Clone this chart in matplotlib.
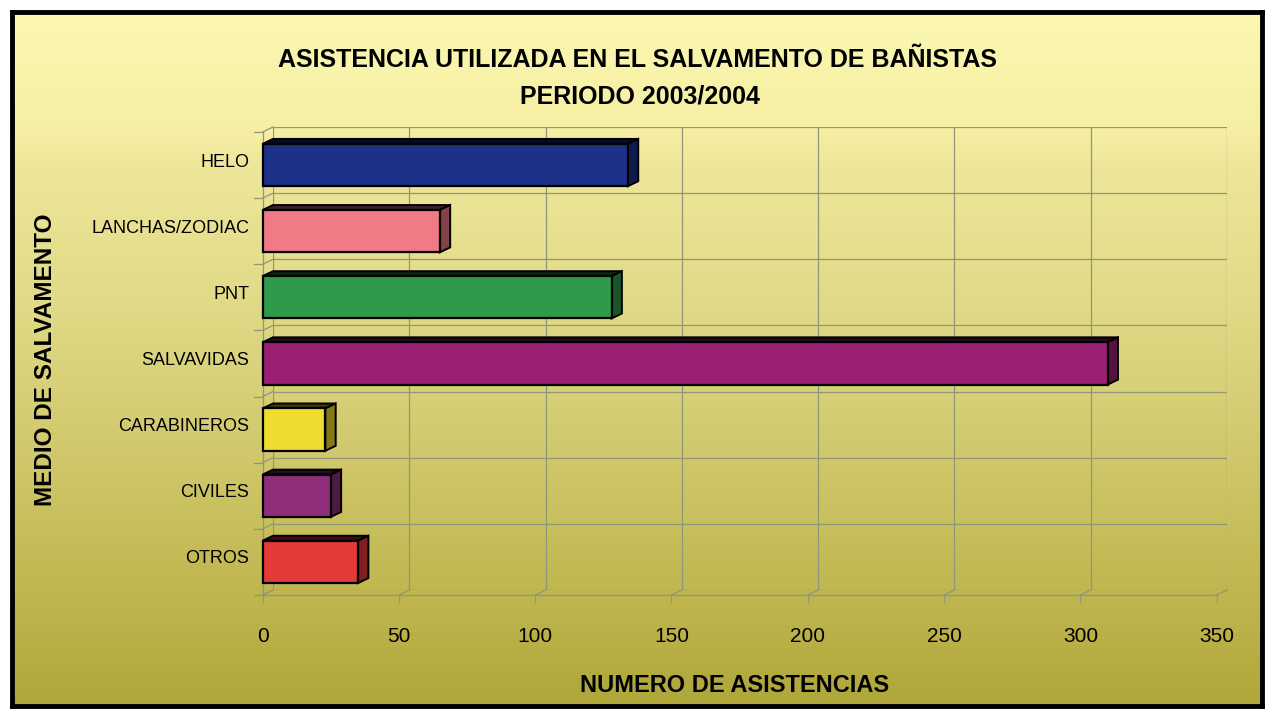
import numpy as np
import matplotlib
matplotlib.use("Agg")
import matplotlib.pyplot as plt
from matplotlib import font_manager
from matplotlib.colors import LinearSegmentedColormap, to_rgb
from matplotlib.patches import Polygon
from matplotlib.transforms import blended_transform_factory

categories = ["HELO", "LANCHAS/ZODIAC", "PNT", "SALVAVIDAS", "CARABINEROS", "CIVILES", "OTROS"]
asistencias = [134, 65, 128, 310, 23, 25, 35]
bar_colors = ["#1d3189", "#f07a85", "#2f9a4a", "#9b1f72", "#efdc2e", "#8f2e7a", "#e53a3a"]
x_ticks = [0, 50, 100, 150, 200, 250, 300, 350]

names = {f.name for f in font_manager.fontManager.ttflist}
FONT = "Liberation Sans Narrow" if "Liberation Sans Narrow" in names else "Liberation Sans"
plt.rcParams["font.family"] = [FONT, "DejaVu Sans"]

W, H = 1270, 720
fig = plt.figure(figsize=(W / 100, H / 100), dpi=100)
fig.patch.set_facecolor("white")

# framed panel with the yellow-to-olive wash
bg = fig.add_axes([12 / W, 14 / H, 1250 / W, 694 / H])
cmap = LinearSegmentedColormap.from_list(
    "wash", [(0.0, "#fcf8b2"), (0.18, "#f5eea2"), (0.22, "#eee79a"),
             (0.5, "#dbd47e"), (0.8, "#c3ba55"), (1.0, "#b0a73a")])
bg.imshow(np.linspace(0, 1, 256).reshape(-1, 1), aspect="auto", cmap=cmap,
          extent=[0, 1, 0, 1], origin="upper")
bg.set_xticks([])
bg.set_yticks([])
for s in bg.spines.values():
    s.set_linewidth(3.5)
    s.set_color("black")

# plot wall
ax = fig.add_axes([273 / W, 130 / H, 954 / W, 463 / H])
ax.set_facecolor("none")
ax.set_xlim(0, 350)
ax.set_ylim(len(categories) - 0.5, -0.5)
for s in ax.spines.values():
    s.set_visible(False)

grid_c = "#8f967a"
for v in x_ticks:
    ax.plot([v, v], [-0.5, len(categories) - 0.5], color=grid_c, lw=0.9, zorder=1)
for k in range(len(categories) + 1):
    ax.plot([0, 350], [k - 0.5, k - 0.5], color=grid_c, lw=0.9, zorder=1)

# depth offset of the front faces
dx, dy = 3.8, 0.075
n = len(categories)
ax.plot([-dx, -dx], [-0.5 + dy, n - 0.5 + dy], color=grid_c, lw=0.9, clip_on=False)
ax.plot([-dx, 350 - dx], [n - 0.5 + dy, n - 0.5 + dy], color=grid_c, lw=0.9, clip_on=False)
for k in range(n + 1):
    ax.plot([-dx, 0], [k - 0.5 + dy, k - 0.5], color=grid_c, lw=0.9, clip_on=False)
    ax.plot([-dx - 3, -dx], [k - 0.5 + dy, k - 0.5 + dy], color=grid_c, lw=0.9, clip_on=False)
for v in x_ticks:
    ax.plot([v - dx, v], [n - 0.5 + dy, n - 0.5], color=grid_c, lw=0.9, clip_on=False)
    ax.plot([v - dx, v - dx], [n - 0.5 + dy, n - 0.5 + dy + 0.1], color=grid_c, lw=0.9,
            clip_on=False)


def shade(c, f):
    r, g, b = to_rgb(c)
    return (r * f, g * f, b * f)


h = 0.64
for i, (v, c) in enumerate(zip(asistencias, bar_colors)):
    t, b = i - h / 2, i + h / 2
    top = [(0, t), (v, t), (v - dx, t + dy), (-dx, t + dy)]
    side = [(v, t), (v, b), (v - dx, b + dy), (v - dx, t + dy)]
    front = [(-dx, t + dy), (v - dx, t + dy), (v - dx, b + dy), (-dx, b + dy)]
    ax.add_patch(Polygon(top, closed=True, fc=shade(c, 0.25), ec="black", lw=1.4,
                         zorder=3, clip_on=False))
    ax.add_patch(Polygon(side, closed=True, fc=shade(c, 0.55), ec="black", lw=1.4,
                         zorder=3, clip_on=False))
    ax.add_patch(Polygon(front, closed=True, fc=c, ec="black", lw=1.6,
                         zorder=4, clip_on=False))

ax.set_xticks([])
ax.set_yticks(range(n))
ax.set_yticklabels(categories, fontsize=13)
ax.tick_params(axis="y", length=0, pad=17)

trans = blended_transform_factory(ax.transData, ax.transAxes)
for v in x_ticks:
    ax.text(v - dx, -0.1, str(v), transform=trans, ha="center", va="center",
            fontsize=15)

fig.text(638 / W, 1 - 60 / H, "ASISTENCIA UTILIZADA EN EL SALVAMENTO DE BAÑISTAS",
         ha="center", va="center", fontsize=18, fontweight="bold")
fig.text(640 / W, 1 - 96 / H, "PERIODO 2003/2004",
         ha="center", va="center", fontsize=18, fontweight="bold")
fig.text(735 / W, 1 - 686 / H, "NUMERO DE ASISTENCIAS",
         ha="center", va="center", fontsize=17, fontweight="bold")
fig.text(46 / W, 1 - 360 / H, "MEDIO DE SALVAMENTO", rotation=90,
         ha="center", va="center", fontsize=17.5, fontweight="bold")

fig.savefig("out.png", dpi=100)
